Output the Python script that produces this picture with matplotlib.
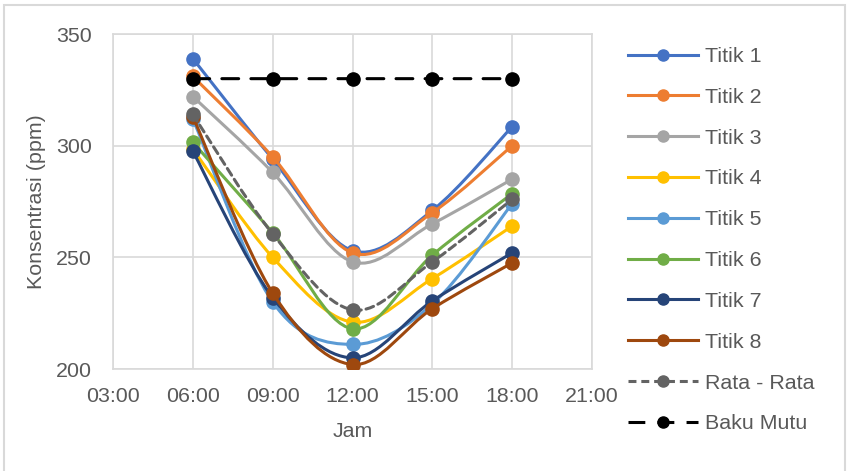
import numpy as np
import matplotlib
matplotlib.use('Agg')
import matplotlib.pyplot as plt
from matplotlib.path import Path
from matplotlib.patches import PathPatch, Rectangle
from matplotlib.lines import Line2D

# Hourly CO2 readings (ppm) at each sampling point
jam = [6, 9, 12, 15, 18]
titik_1 = [339, 294, 253, 271, 308.5]
titik_2 = [331, 295, 252, 270, 300]
titik_3 = [322, 288, 248, 265, 285]
titik_4 = [298.5, 250, 221, 240.5, 264]
titik_5 = [312, 230, 211, 229, 274]
titik_6 = [301.5, 261, 218, 251, 278.5]
titik_7 = [297.5, 232, 205, 230.5, 252]
titik_8 = [313, 234, 202, 227, 247.5]
rata_rata = [314, 260.5, 226.5, 248, 276]
baku_mutu = [330, 330, 330, 330, 330]

labels = ['Titik 1', 'Titik 2', 'Titik 3', 'Titik 4', 'Titik 5', 'Titik 6',
          'Titik 7', 'Titik 8', 'Rata - Rata', 'Baku Mutu']
series = [titik_1, titik_2, titik_3, titik_4, titik_5, titik_6, titik_7,
          titik_8, rata_rata, baku_mutu]
colors = ['#4472C4', '#ED7D31', '#A5A5A5', '#FFC000', '#5B9BD5', '#70AD47',
          '#264478', '#9E480E', '#636363', '#000000']
dashes = [None] * 8 + [(0, (2.6, 1.6)), (0, (5.5, 4))]

plt.rcParams['font.family'] = ['Liberation Sans', 'DejaVu Sans']
text_color = '#595959'
grid_color = '#D9D9D9'
fs = 15.4


def smooth_path(x, y):
    # Excel-like smoothed line: cubic Bezier segments with Catmull-Rom tangents
    pts = np.column_stack([x, y]).astype(float)
    ext = np.vstack([pts[0], pts, pts[-1]])
    verts = [pts[0]]
    codes = [Path.MOVETO]
    for i in range(len(pts) - 1):
        p0, p1, p2, p3 = ext[i], ext[i + 1], ext[i + 2], ext[i + 3]
        verts += [p1 + (p2 - p0) / 6, p2 - (p3 - p1) / 6, p2]
        codes += [Path.CURVE4] * 3
    return Path(verts, codes)


fig = plt.figure(figsize=(8.47, 4.71), dpi=100)
W, H = 847, 471
ax = fig.add_axes([113 / W, 1 - 369 / H, (592 - 113) / W, (369 - 34) / H])

lw = 2.2
ms = 9.5
handles = []
for i, (vals, col, ls, lab) in enumerate(zip(series, colors, dashes, labels)):
    patch = PathPatch(smooth_path(jam, vals), fill=False, edgecolor=col,
                      linewidth=lw, linestyle=ls if ls else '-',
                      capstyle='round', joinstyle='round', zorder=3 + 2 * i)
    ax.add_patch(patch)
    ax.plot(jam, vals, linestyle='none', marker='o', markersize=ms,
            color=col, zorder=4 + 2 * i)
    handles.append(Line2D([], [], color=col, linewidth=lw,
                          linestyle=ls if ls else '-', marker='o',
                          markersize=ms - 1.5))

ax.set_xlim(3, 21)
ax.set_ylim(200, 350)
ax.set_xticks([3, 6, 9, 12, 15, 18, 21])
ax.set_xticklabels(['%02d:00' % h for h in [3, 6, 9, 12, 15, 18, 21]])
ax.set_yticks([200, 250, 300, 350])
ax.grid(True, color=grid_color, linewidth=1.2, zorder=0)
ax.set_axisbelow(True)
for sp in ax.spines.values():
    sp.set_color(grid_color)
    sp.set_linewidth(1.2)
ax.tick_params(length=0, labelsize=fs, colors=text_color)
ax.tick_params(axis='y', pad=15)
ax.tick_params(axis='x', pad=13)
ax.set_xlabel('Jam', fontsize=fs, color=text_color, labelpad=11.5)
ax.set_ylabel('Konsentrasi (ppm)', fontsize=fs, color=text_color, labelpad=7)

leg = fig.legend(handles=handles, labels=labels, loc='upper left',
                 bbox_to_anchor=(628 / W, 1 - 47 / H), frameon=False,
                 fontsize=fs, handlelength=3.27, handletextpad=0.33,
                 labelspacing=1.02, borderpad=0, borderaxespad=0)
for t in leg.get_texts():
    t.set_color(text_color)

# chart border
fig.patches.append(Rectangle((4 / W, -0.05), 841 / W, 1.05 - 5 / H,
                             transform=fig.transFigure, fill=False,
                             edgecolor=grid_color, linewidth=1.5))

fig.savefig('out.png', dpi=100)
